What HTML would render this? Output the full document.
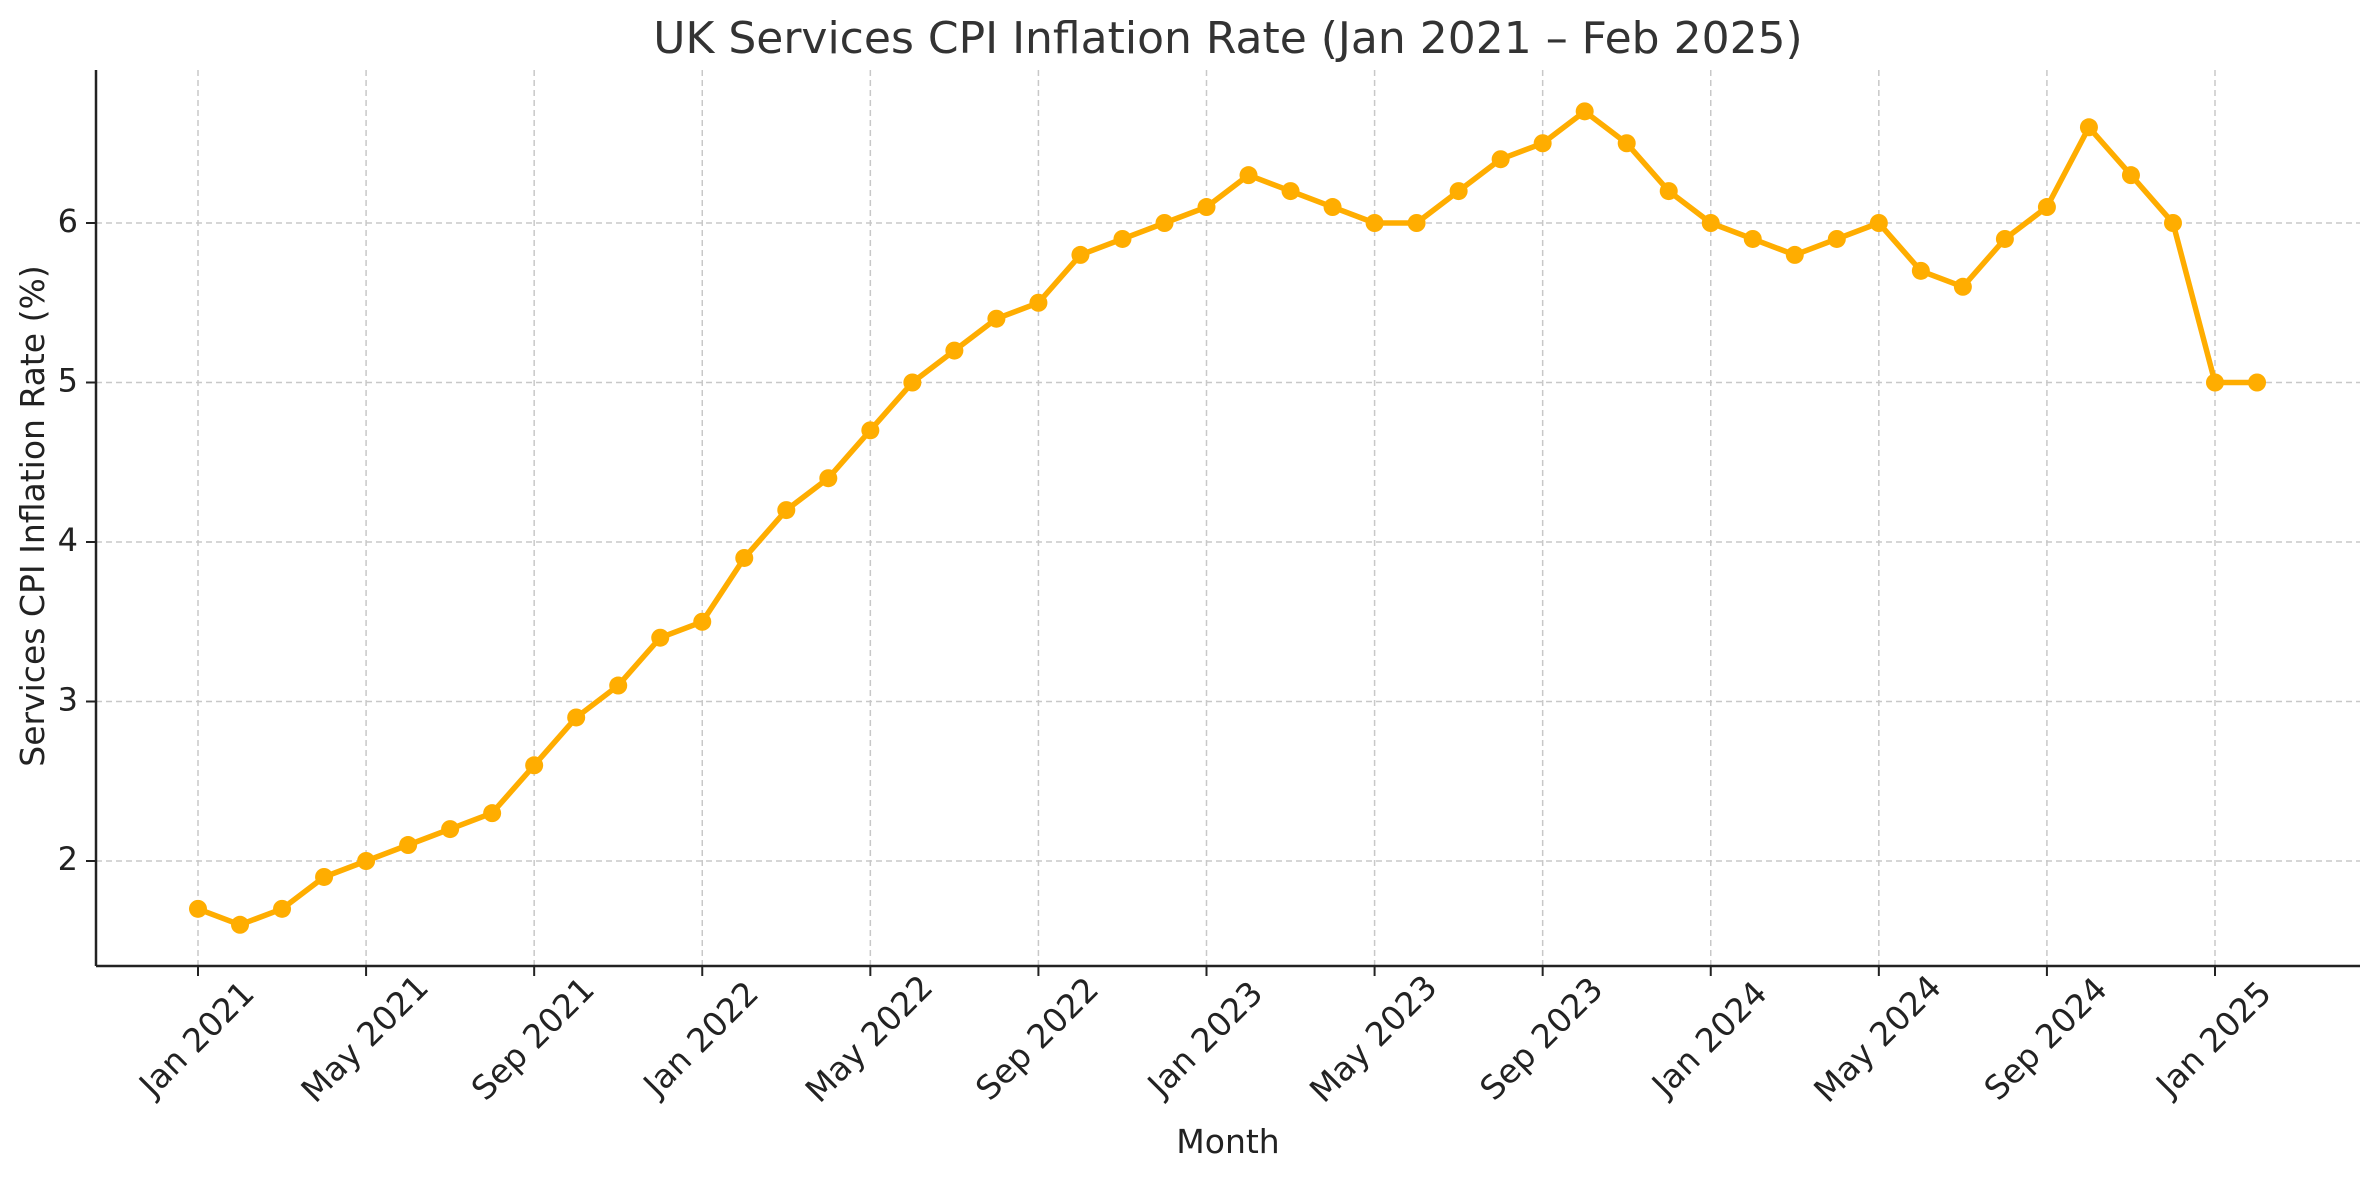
<!DOCTYPE html>
<html><head><meta charset="utf-8"><style>
body{margin:0;background:#fff}
svg{display:block;font-family:"DejaVu Sans","Liberation Sans",sans-serif}
</style></head><body>
<svg id="chart" width="2380" height="1180" viewBox="0 0 2380 1180">
<text x="1228" y="53" font-size="44" text-anchor="middle" fill="#333">UK Services CPI Inflation Rate (Jan 2021 – Feb 2025)</text>
<g id="grid"></g>
<g id="axes"></g>
<g id="series"></g>
<text x="1228" y="1153" font-size="33" text-anchor="middle" fill="#222">Month</text>
<text transform="translate(44,516) rotate(-90)" font-size="33" text-anchor="middle" fill="#222">Services CPI Inflation Rate (%)</text>
</svg>
<script>
const months = ["2021-01","2021-02","2021-03","2021-04","2021-05","2021-06","2021-07","2021-08","2021-09","2021-10","2021-11","2021-12","2022-01","2022-02","2022-03","2022-04","2022-05","2022-06","2022-07","2022-08","2022-09","2022-10","2022-11","2022-12","2023-01","2023-02","2023-03","2023-04","2023-05","2023-06","2023-07","2023-08","2023-09","2023-10","2023-11","2023-12","2024-01","2024-02","2024-03","2024-04","2024-05","2024-06","2024-07","2024-08","2024-09","2024-10","2024-11","2024-12","2025-01","2025-02"];
const rates = [1.7,1.6,1.7,1.9,2.0,2.1,2.2,2.3,2.6,2.9,3.1,3.4,3.5,3.9,4.2,4.4,4.7,5.0,5.2,5.4,5.5,5.8,5.9,6.0,6.1,6.3,6.2,6.1,6.0,6.0,6.2,6.4,6.5,6.7,6.5,6.2,6.0,5.9,5.8,5.9,6.0,5.7,5.6,5.9,6.1,6.6,6.3,6.0,5.0,5.0];
const xTickDates = ["2021-01","2021-05","2021-09","2022-01","2022-05","2022-09","2023-01","2023-05","2023-09","2024-01","2024-05","2024-09","2025-01"];
const xTickLabels = ["Jan 2021","May 2021","Sep 2021","Jan 2022","May 2022","Sep 2022","Jan 2023","May 2023","Sep 2023","Jan 2024","May 2024","Sep 2024","Jan 2025"];
const yTicks = [2,3,4,5,6];

const NS="http://www.w3.org/2000/svg";
const L=96,R=2360,T=70,B=966;
const px0=198, px1=2215;
function mIdx(s){const [y,m]=s.split("-").map(Number);return (y-2021)*12+(m-1);}
function xs(s){return px0+mIdx(s)/48*(px1-px0);}
function ys(v){return 861-(v-2)*159.5;}
function mk(tag,attrs,parent){const e=document.createElementNS(NS,tag);for(const k in attrs)e.setAttribute(k,attrs[k]);parent.appendChild(e);return e;}
const grid=document.getElementById('grid'),axes=document.getElementById('axes'),series=document.getElementById('series');

xTickDates.forEach((d,i)=>{
  const x=xs(d);
  const g=mk('line',{x1:x,x2:x,y1:T,y2:B,stroke:'#c8c8c8','stroke-width':1.5,'stroke-dasharray':'6,4'},grid);
  
  
  const t=mk('line',{x1:x,x2:x,y1:B,y2:B+10,stroke:'#222','stroke-width':2},axes);
  
  
  const lb=mk('text',{transform:`translate(${x},${B+74}) rotate(-45)`,'font-size':33,'text-anchor':'middle','dominant-baseline':'middle',fill:'#222'},axes);
  lb.textContent=xTickLabels[i];
  
  
});
yTicks.forEach(v=>{
  const y=ys(v);
  const g=mk('line',{x1:L,x2:R,y1:y,y2:y,stroke:'#c8c8c8','stroke-width':1.5,'stroke-dasharray':'6,4'},grid);
  
  
  const t=mk('line',{x1:L-10,x2:L,y1:y,y2:y,stroke:'#222','stroke-width':2},axes);
  
  
  const lb=mk('text',{x:L-18,y:y,'font-size':32,'text-anchor':'end','dominant-baseline':'middle',fill:'#222'},axes);
  lb.textContent=v;
  
  
});
const ya=mk('line',{x1:L,x2:L,y1:T,y2:B,stroke:'#222','stroke-width':2.5},axes);


const xa=mk('line',{x1:L,x2:R,y1:B,y2:B,stroke:'#222','stroke-width':2.5},axes);



const pts=months.map((m,i)=>xs(m).toFixed(1)+','+ys(rates[i]).toFixed(1)).join(' ');
const line=mk('polyline',{points:pts,fill:'none',stroke:'#FFAD00','stroke-width':5.5,'stroke-linejoin':'round'},series);


months.forEach((m,i)=>{
  const c=mk('circle',{cx:xs(m),cy:ys(rates[i]),r:9,fill:'#FFAD00'},series);
  
  
});
</script>
</body></html>
